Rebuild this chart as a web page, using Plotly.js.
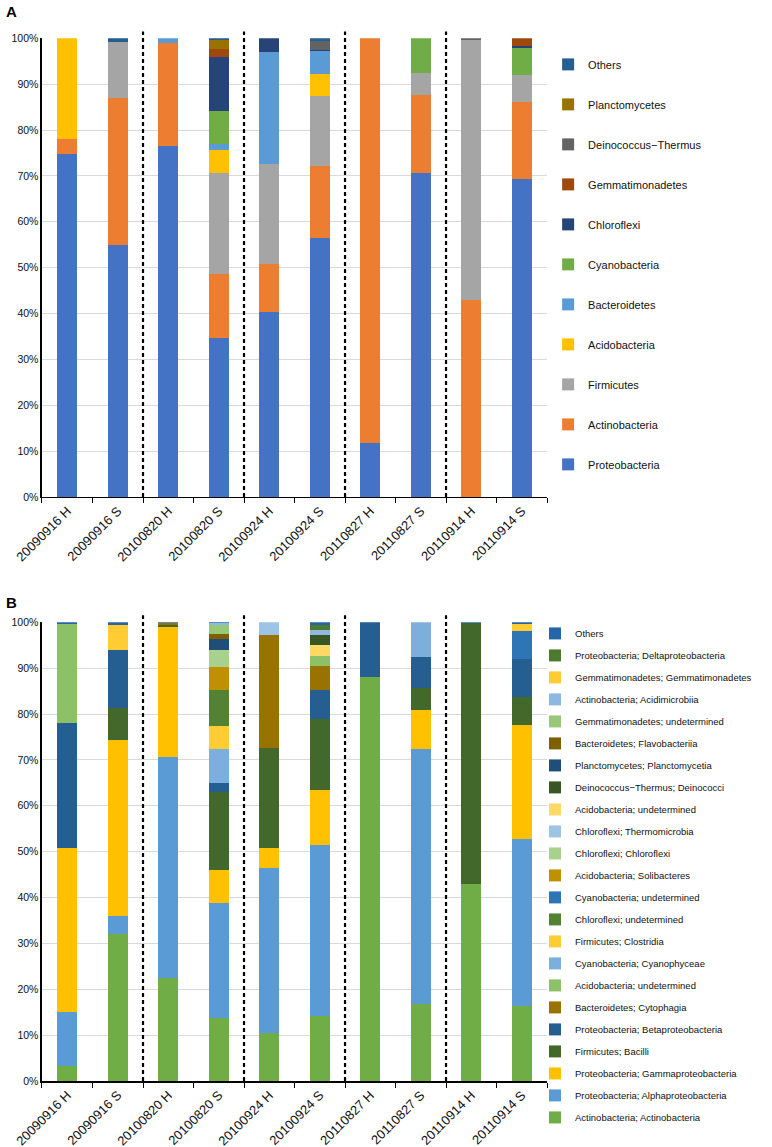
<!DOCTYPE html>
<html>
<head>
<meta charset="utf-8">
<script src="https://cdn.plot.ly/plotly-3.0.1.min.js"></script>
<style>html,body{margin:0;padding:0;background:#fff;}#chart{width:772px;height:1147px;}</style>
</head>
<body>
<div id="chart"></div>
<script>
// ---------- shared categories ----------
const categories = ['20090916 H','20090916 S','20100820 H','20100820 S','20100924 H','20100924 S','20110827 H','20110827 S','20110914 H','20110914 S'];

// ---------- Panel A (phylum level, % of reads) ----------
const proteobacteria   = [74.7, 55.0, 76.5, 34.6, 40.4, 56.5, 11.8, 70.7, 0,    69.4];
const actinobacteria   = [3.4,  31.9, 22.5, 14.1, 10.5, 15.6, 88.2, 16.9, 42.9, 16.7];
const firmicutes       = [0,    12.3, 0,    22.0, 21.6, 15.3, 0,    4.8,  56.8, 5.8];
const acidobacteria    = [21.9, 0,    0,    4.9,  0,    4.9,  0,    0,    0,    0];
const bacteroidetes    = [0,    0,    1.0,  1.3,  24.5, 4.9,  0,    0,    0,    0];
const cyanobacteria    = [0,    0,    0,    7.2,  0,    0,    0,    7.6,  0,    6.0];
const chloroflexi      = [0,    0,    0,    11.8, 3.0,  0.3,  0,    0,    0,    0.4];
const gemmatimonadetes = [0,    0,    0,    1.7,  0,    0,    0,    0,    0,    1.7];
const deinococcus      = [0,    0,    0,    0,    0,    2.0,  0,    0,    0.3,  0];
const planctomycetes   = [0,    0,    0,    2.0,  0,    0,    0,    0,    0,    0];
const othersA          = [0,    0.8,  0,    0.4,  0,    0.5,  0,    0,    0,    0];

const namesA = ['Proteobacteria','Actinobacteria','Firmicutes','Acidobacteria','Bacteroidetes','Cyanobacteria','Chloroflexi','Gemmatimonadetes','Deinococcus\u2212Thermus','Planctomycetes','Others'];
const valuesA = [proteobacteria, actinobacteria, firmicutes, acidobacteria, bacteroidetes, cyanobacteria, chloroflexi, gemmatimonadetes, deinococcus, planctomycetes, othersA];
const colorsA = ['#4472C4','#ED7D31','#A5A5A5','#FFC000','#5B9BD5','#70AD47','#264478','#9E480E','#636363','#997300','#255E91'];

// ---------- Panel B (class level, % of reads) ----------
const actinoActino      = [3.3,  32.0, 22.4, 13.7, 10.4, 14.2, 88.0, 16.8, 42.9, 16.4];
const alphaproteo       = [11.8, 4.0,  48.3, 25.0, 36.1, 37.3, 0,    55.5, 0,    36.3];
const gammaproteo       = [35.8, 38.4, 28.3, 7.4,  4.4,  12.0, 0,    8.5,  0,    25.0];
const bacilli           = [0,    7.0,  0.3,  16.9, 21.7, 15.4, 0,    4.9,  56.9, 6.0];
const betaproteo        = [27.2, 12.5, 0,    2.0,  0,    6.4,  12.0, 6.7,  0,    8.2];
const cytophagia        = [0,    0,    0.5,  0,    24.6, 5.1,  0,    0,    0,    0];
const acidoUndet1       = [21.6, 0,    0,    0,    0,    2.3,  0,    0,    0,    0];
const cyanophyceae      = [0,    0,    0,    7.3,  0,    0,    0,    7.6,  0,    0];
const clostridia        = [0,    5.6,  0,    5.0,  0,    0,    0,    0,    0,    0];
const chloroflexiUndet  = [0,    0,    0,    8.0,  0,    0,    0,    0,    0,    0];
const cyanoUndet        = [0,    0,    0,    0,    0,    0,    0,    0,    0,    6.2];
const solibacteres      = [0,    0,    0,    5.0,  0,    0,    0,    0,    0,    0];
const chloroflexiChl    = [0,    0,    0,    3.6,  0,    0,    0,    0,    0,    0];
const thermomicrobia    = [0,    0,    0,    0,    2.8,  0,    0,    0,    0,    0];
const acidoUndet2       = [0,    0,    0,    0,    0,    2.4,  0,    0,    0,    0];
const deinococci        = [0,    0,    0,    0,    0,    2.2,  0,    0,    0,    0];
const planctomycetia    = [0,    0,    0,    2.4,  0,    0,    0,    0,    0,    0];
const flavobacteriia    = [0,    0,    0,    1.2,  0,    0,    0,    0,    0,    0];
const gemmUndet         = [0,    0,    0,    1.8,  0,    0,    0,    0,    0,    0];
const acidimicrobiia    = [0,    0,    0,    0.6,  0,    1.1,  0,    0,    0,    0];
const gemmGemm          = [0,    0,    0,    0,    0,    0,    0,    0,    0,    1.6];
const deltaproteo       = [0,    0,    0,    0,    0,    1.0,  0,    0,    0,    0];
const othersB           = [0.3,  0.5,  0.2,  0.1,  0,    0.6,  0,    0,    0.2,  0.3];

const namesB = ['Actinobacteria; Actinobacteria','Proteobacteria; Alphaproteobacteria','Proteobacteria; Gammaproteobacteria','Firmicutes; Bacilli','Proteobacteria; Betaproteobacteria','Bacteroidetes; Cytophagia','Acidobacteria; undetermined','Cyanobacteria; Cyanophyceae','Firmicutes; Clostridia','Chloroflexi; undetermined','Cyanobacteria; undetermined','Acidobacteria; Solibacteres','Chloroflexi; Chloroflexi','Chloroflexi; Thermomicrobia','Acidobacteria; undetermined','Deinococcus\u2212Thermus; Deinococci','Planctomycetes; Planctomycetia','Bacteroidetes; Flavobacteriia','Gemmatimonadetes; undetermined','Actinobacteria; Acidimicrobiia','Gemmatimonadetes; Gemmatimonadetes','Proteobacteria; Deltaproteobacteria','Others'];
const valuesB = [actinoActino, alphaproteo, gammaproteo, bacilli, betaproteo, cytophagia, acidoUndet1, cyanophyceae, clostridia, chloroflexiUndet, cyanoUndet, solibacteres, chloroflexiChl, thermomicrobia, acidoUndet2, deinococci, planctomycetia, flavobacteriia, gemmUndet, acidimicrobiia, gemmGemm, deltaproteo, othersB];
const colorsB = ['#70AD47','#5B9BD5','#FFC000','#43682B','#255E91','#997300','#8CC168','#7CAFDD','#FFCD33','#548235','#2E75B6','#BF9000','#A9D18E','#9DC3E6','#FFD966','#375623','#1F4E79','#7F6000','#98C87A','#8FB8E0','#FFCC33','#4E7A30','#2566A8'];

const FONT = 'Liberation Sans, Arial, sans-serif';
const traces = [];
namesA.forEach((n, i) => {
  traces.push({type:'bar', name:n, x:categories, y:valuesA[i], xaxis:'x', yaxis:'y',
    marker:{color:colorsA[i], line:{width:0}}, width:0.4, legend:'legend', legendgroup:'a'+i, legendrank:100-i});
});
namesB.forEach((n, i) => {
  traces.push({type:'bar', name:n, x:categories, y:valuesB[i], xaxis:'x2', yaxis:'y2',
    marker:{color:colorsB[i], line:{width:0}}, width:0.4, legend:'legend2', legendgroup:'b'+i, legendrank:100-i});
});

const xCommon = {type:'category', range:[-0.5, 9.5], tickson:'boundaries', ticks:'outside', ticklen:5, tickcolor:'#000',
  showline:true, linecolor:'#000', linewidth:1.5, showgrid:false, tickangle:-45,
  tickfont:{family:FONT, size:13, color:'#111'}, fixedrange:true};
const yCommon = {range:[0,100], dtick:10, ticksuffix:'%', showline:true, linecolor:'#000', linewidth:1.5,
  showgrid:true, gridcolor:'#D9D9D9', gridwidth:1, zeroline:false, ticks:'',
  tickfont:{family:FONT, size:10.5, color:'#111'}, fixedrange:true};

const shapes = [];
[1.5, 3.5, 5.5, 7.5].forEach(v => {
  shapes.push({type:'line', xref:'x', yref:'y domain', x0:v, x1:v, y0:0, y1:1.015, line:{color:'#000', width:2.2, dash:'4px,3px'}});
  shapes.push({type:'line', xref:'x2', yref:'y2 domain', x0:v, x1:v, y0:0, y1:1.015, line:{color:'#000', width:2.2, dash:'4px,3px'}});
});

const layout = {
  width:772, height:1147, margin:{l:0, r:0, t:0, b:0},
  paper_bgcolor:'#fff', plot_bgcolor:'#fff', barmode:'stack', bargap:0.6,
  font:{family:FONT, color:'#111'},
  xaxis:Object.assign({}, xCommon, {domain:[0.0544, 0.7086], anchor:'y'}),
  yaxis:Object.assign({}, yCommon, {domain:[0.5667, 0.9666], anchor:'x'}),
  xaxis2:Object.assign({}, xCommon, {domain:[0.0544, 0.7086], anchor:'y2'}),
  yaxis2:Object.assign({}, yCommon, {domain:[0.0575, 0.4575], anchor:'x2'}),
  legend:{x:0.71, y:0.9565, xanchor:'left', yanchor:'top', traceorder:'grouped', tracegroupgap:21,
    font:{family:FONT, size:11, color:'#111'}, bgcolor:'rgba(0,0,0,0)'},
  legend2:{x:0.693, y:0.4604, xanchor:'left', yanchor:'top', traceorder:'grouped', tracegroupgap:3,
    font:{family:FONT, size:9.5, color:'#111'}, bgcolor:'rgba(0,0,0,0)'},
  shapes:shapes,
  annotations:[
    {text:'<b>A</b>', xref:'paper', yref:'paper', x:0.005, y:0.9995, xanchor:'left', yanchor:'top', showarrow:false, font:{family:FONT, size:15, color:'#000'}},
    {text:'<b>B</b>', xref:'paper', yref:'paper', x:0.005, y:0.4835, xanchor:'left', yanchor:'top', showarrow:false, font:{family:FONT, size:15, color:'#000'}}
  ]
};

Plotly.newPlot('chart', traces, layout, {staticPlot:true, displayModeBar:false});
</script>
</body>
</html>
